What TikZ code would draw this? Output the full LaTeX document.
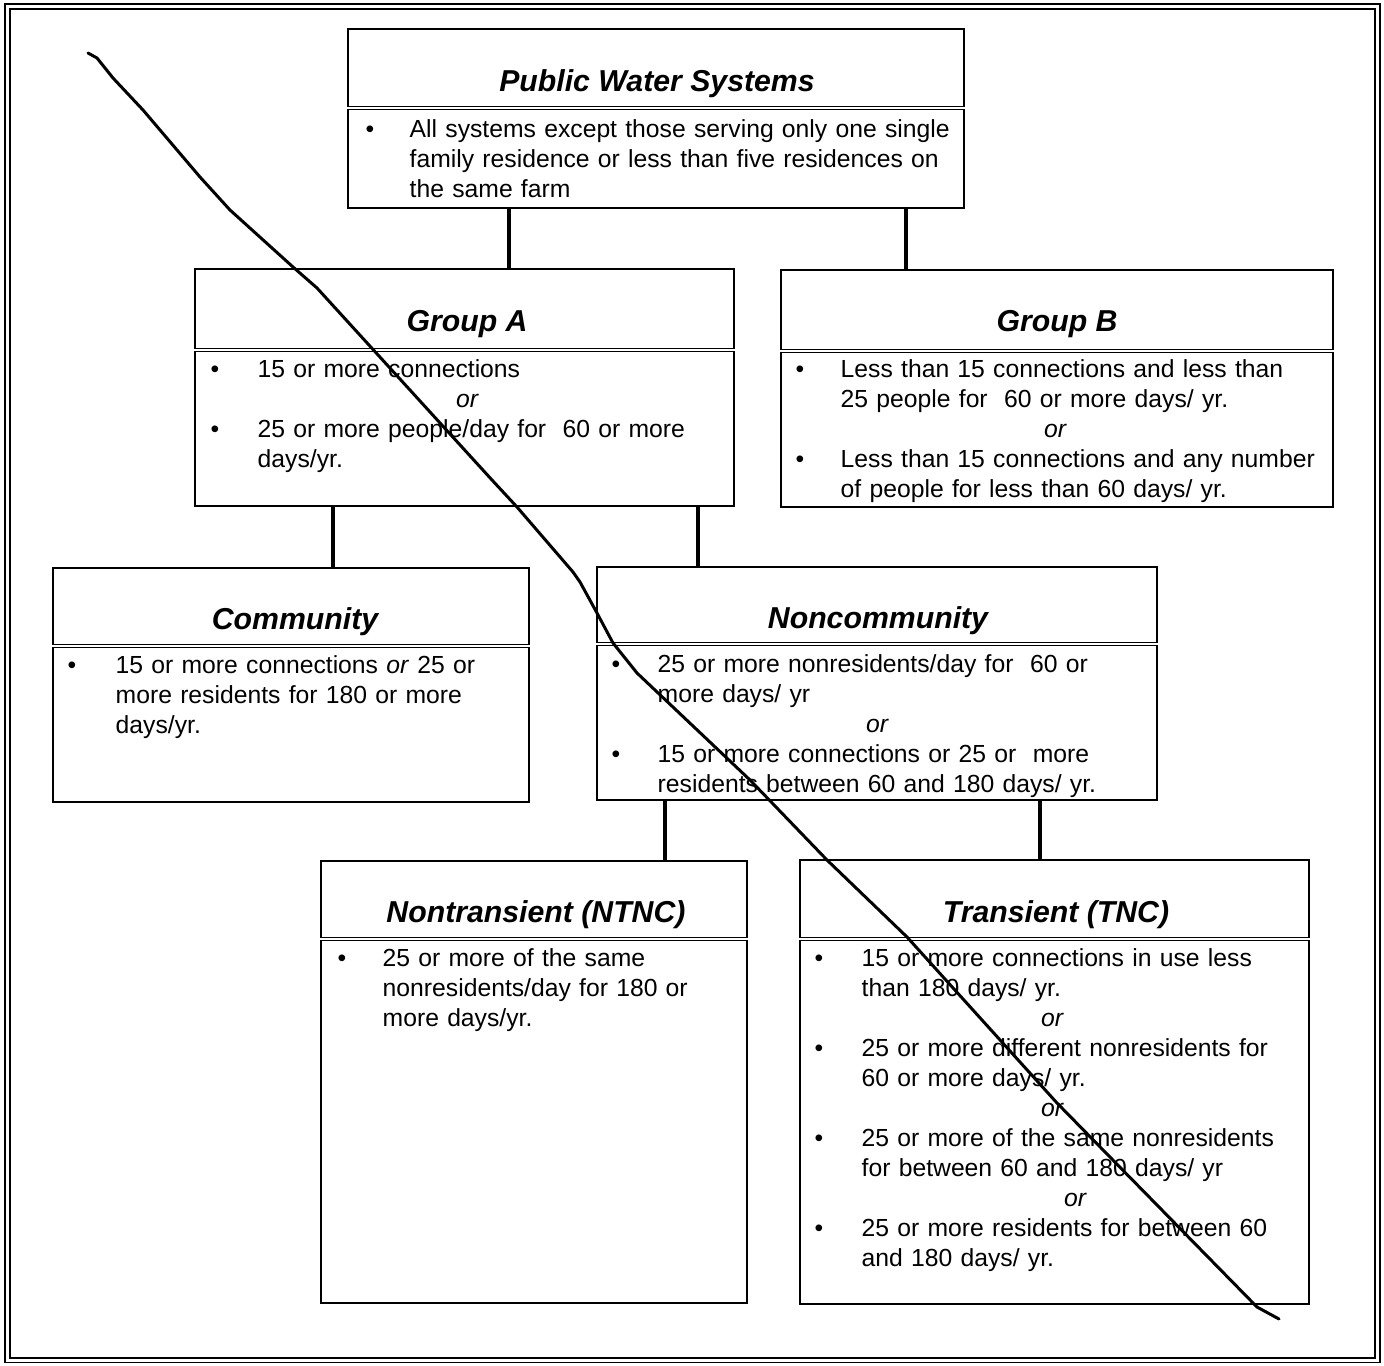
\documentclass[tikz,border=0pt]{standalone}
\usepackage{fontspec}
\setmainfont{Liberation Sans}
\usetikzlibrary{calc,fit}
\tikzset{
    box/.style = {draw, line width=0.6pt, inner sep=0pt},
    sepline/.style = {double, double distance=0.55pt, line width=0.4pt},
    frame/.style = {double, double distance=0.85pt, line width=0.5pt},
    link/.style = {line width=0.95pt},
    title/.style = {anchor=base, inner sep=0pt, font=\fontsize{8.6pt}{10pt}\selectfont\bfseries\itshape},
    item/.style = {anchor=base west, inner sep=0pt, align=left, font=\fontsize{7.03pt}{8.54pt}\selectfont},
    dot/.style = {anchor=base, inner sep=0pt, font=\fontsize{7.03pt}{8.54pt}\selectfont},
    alt/.style = {anchor=base, inner sep=0pt, font=\fontsize{7.03pt}{8.54pt}\selectfont\itshape},
    strike/.style = {line width=0.85pt, line cap=round, line join=round},
}
\begin{document}
\begin{tikzpicture}[x=0.01cm,y=-0.01cm]
\useasboundingbox (0,0) rectangle (1384,1366);
\draw[frame] (7.5,6.5) rectangle (1377.5,1360);

% boxes
\node[box, fit={(348,29) (964,208)}] (pws) {};
\node[box, fit={(195,269) (734,506)}] (grpA) {};
\node[box, fit={(781,270) (1333,507)}] (grpB) {};
\node[box, fit={(53,568) (529,802)}] (comm) {};
\node[box, fit={(597,567) (1157,800)}] (noncomm) {};
\node[box, fit={(321,861) (747,1303)}] (ntnc) {};
\node[box, fit={(800,860) (1309,1304)}] (tnc) {};

\draw[sepline] ($(pws.north west)+(0,80)$) -- ($(pws.north east)+(0,80)$);
\draw[sepline] ($(grpA.north west)+(0,82)$) -- ($(grpA.north east)+(0,82)$);
\draw[sepline] ($(grpB.north west)+(0,82)$) -- ($(grpB.north east)+(0,82)$);
\draw[sepline] ($(comm.north west)+(0,79)$) -- ($(comm.north east)+(0,79)$);
\draw[sepline] ($(noncomm.north west)+(0,78)$) -- ($(noncomm.north east)+(0,78)$);
\draw[sepline] ($(ntnc.north west)+(0,79)$) -- ($(ntnc.north east)+(0,79)$);
\draw[sepline] ($(tnc.north west)+(0,80)$) -- ($(tnc.north east)+(0,80)$);

% titles
\node[title] (pwsT) at (657,91) {Public Water Systems};
\node[title] (grpAT) at (467,331) {Group A};
\node[title] (grpBT) at (1057,331) {Group B};
\node[title] (commT) at (295,629) {Community};
\node[title] (noncommT) at (878,628) {Noncommunity};
\node[title] (ntncT) at (536,922) {Nontransient (NTNC)};
\node[title] (tncT) at (1056,922) {Transient (TNC)};

% public water systems
\node[dot] (pwsB1) at (370,137) {\textbullet};
\node[item, text width=5.55cm] (pwsI1) at (409,137) {All systems except those serving only one single\\family residence or less than five residences on\\the same farm};

% group A
\node[dot] (grpAB1) at (215,377) {\textbullet};
\node[item, text width=4.7cm] (grpAI1) at (257,377) {15 or more connections};
\node[alt] (grpAO1) at (467,407) {or};
\node[dot] (grpAB2) at (215,437) {\textbullet};
\node[item, text width=4.7cm] (grpAI2) at (257,437) {25 or more people/day for~ 60 or more\\days/yr.};

% group B
\node[dot] (grpBB1) at (800,377) {\textbullet};
\node[item, text width=4.9cm] (grpBI1) at (840,377) {Less than 15 connections and less than\\25 people for~ 60 or more days/ yr.};
\node[alt] (grpBO1) at (1055,437) {or};
\node[dot] (grpBB2) at (800,467) {\textbullet};
\node[item, text width=4.9cm] (grpBI2) at (840,467) {Less than 15 connections and any number\\of people for less than 60 days/ yr.};

% community
\node[dot] (commB1) at (72,673) {\textbullet};
\node[item, text width=4.1cm] (commI1) at (115,673) {15 or more connections \textit{or} 25 or\\more residents for 180 or more\\days/yr.};

% noncommunity
\node[dot] (noncommB1) at (616,672) {\textbullet};
\node[item, text width=5cm] (noncommI1) at (657,672) {25 or more nonresidents/day for~ 60 or\\more days/ yr};
\node[alt] (noncommO1) at (877,732) {or};
\node[dot] (noncommB2) at (616,762) {\textbullet};
\node[item, text width=5cm] (noncommI2) at (657,762) {15 or more connections or 25 or~ more\\residents between 60 and 180 days/ yr.};

% nontransient
\node[dot] (ntncB1) at (342,966) {\textbullet};
\node[item, text width=3.6cm] (ntncI1) at (382,966) {25 or more of the same\\nonresidents/day for 180 or\\more days/yr.};

% transient
\node[dot] (tncB1) at (819,966) {\textbullet};
\node[item, text width=4.45cm] (tncI1) at (861,966) {15 or more connections in use less\\than 180 days/ yr.};
\node[alt] (tncO1) at (1052,1026) {or};
\node[dot] (tncB2) at (819,1056) {\textbullet};
\node[item, text width=4.45cm] (tncI2) at (861,1056) {25 or more different nonresidents for\\60 or more days/ yr.};
\node[alt] (tncO2) at (1052,1116) {or};
\node[dot] (tncB3) at (819,1146) {\textbullet};
\node[item, text width=4.45cm] (tncI3) at (861,1146) {25 or more of the same nonresidents\\for between 60 and 180 days/ yr};
\node[alt] (tncO3) at (1075,1206) {or};
\node[dot] (tncB4) at (819,1236) {\textbullet};
\node[item, text width=4.45cm] (tncI4) at (861,1236) {25 or more residents for between 60\\and 180 days/ yr.};

% connectors
\coordinate (c1) at (509,0);
\coordinate (c2) at (906,0);
\coordinate (c3) at (333,0);
\coordinate (c4) at (698,0);
\coordinate (c5) at (665,0);
\coordinate (c6) at (1040,0);
\draw[link] (pws.south -| c1) -- (grpA.north -| c1);
\draw[link] (pws.south -| c2) -- (grpB.north -| c2);
\draw[link] (grpA.south -| c3) -- (comm.north -| c3);
\draw[link] (grpA.south -| c4) -- (noncomm.north -| c4);
\draw[link] (noncomm.south -| c5) -- (ntnc.north -| c5);
\draw[link] (noncomm.south -| c6) -- (tnc.north -| c6);

% strike through
\draw[strike] (88,53) -- (97,58) -- (113,78) -- (143,110) -- (200,177) -- (230,210) -- (293,267) -- (317,288) -- (492,480) -- (517,507) -- (573,572) -- (580,582) -- (597,613) -- (613,643) -- (637,673) -- (750,780) -- (827,860) -- (907,937) -- (1057,1103) -- (1257,1307) -- (1279,1319);
\end{tikzpicture}
\end{document}
